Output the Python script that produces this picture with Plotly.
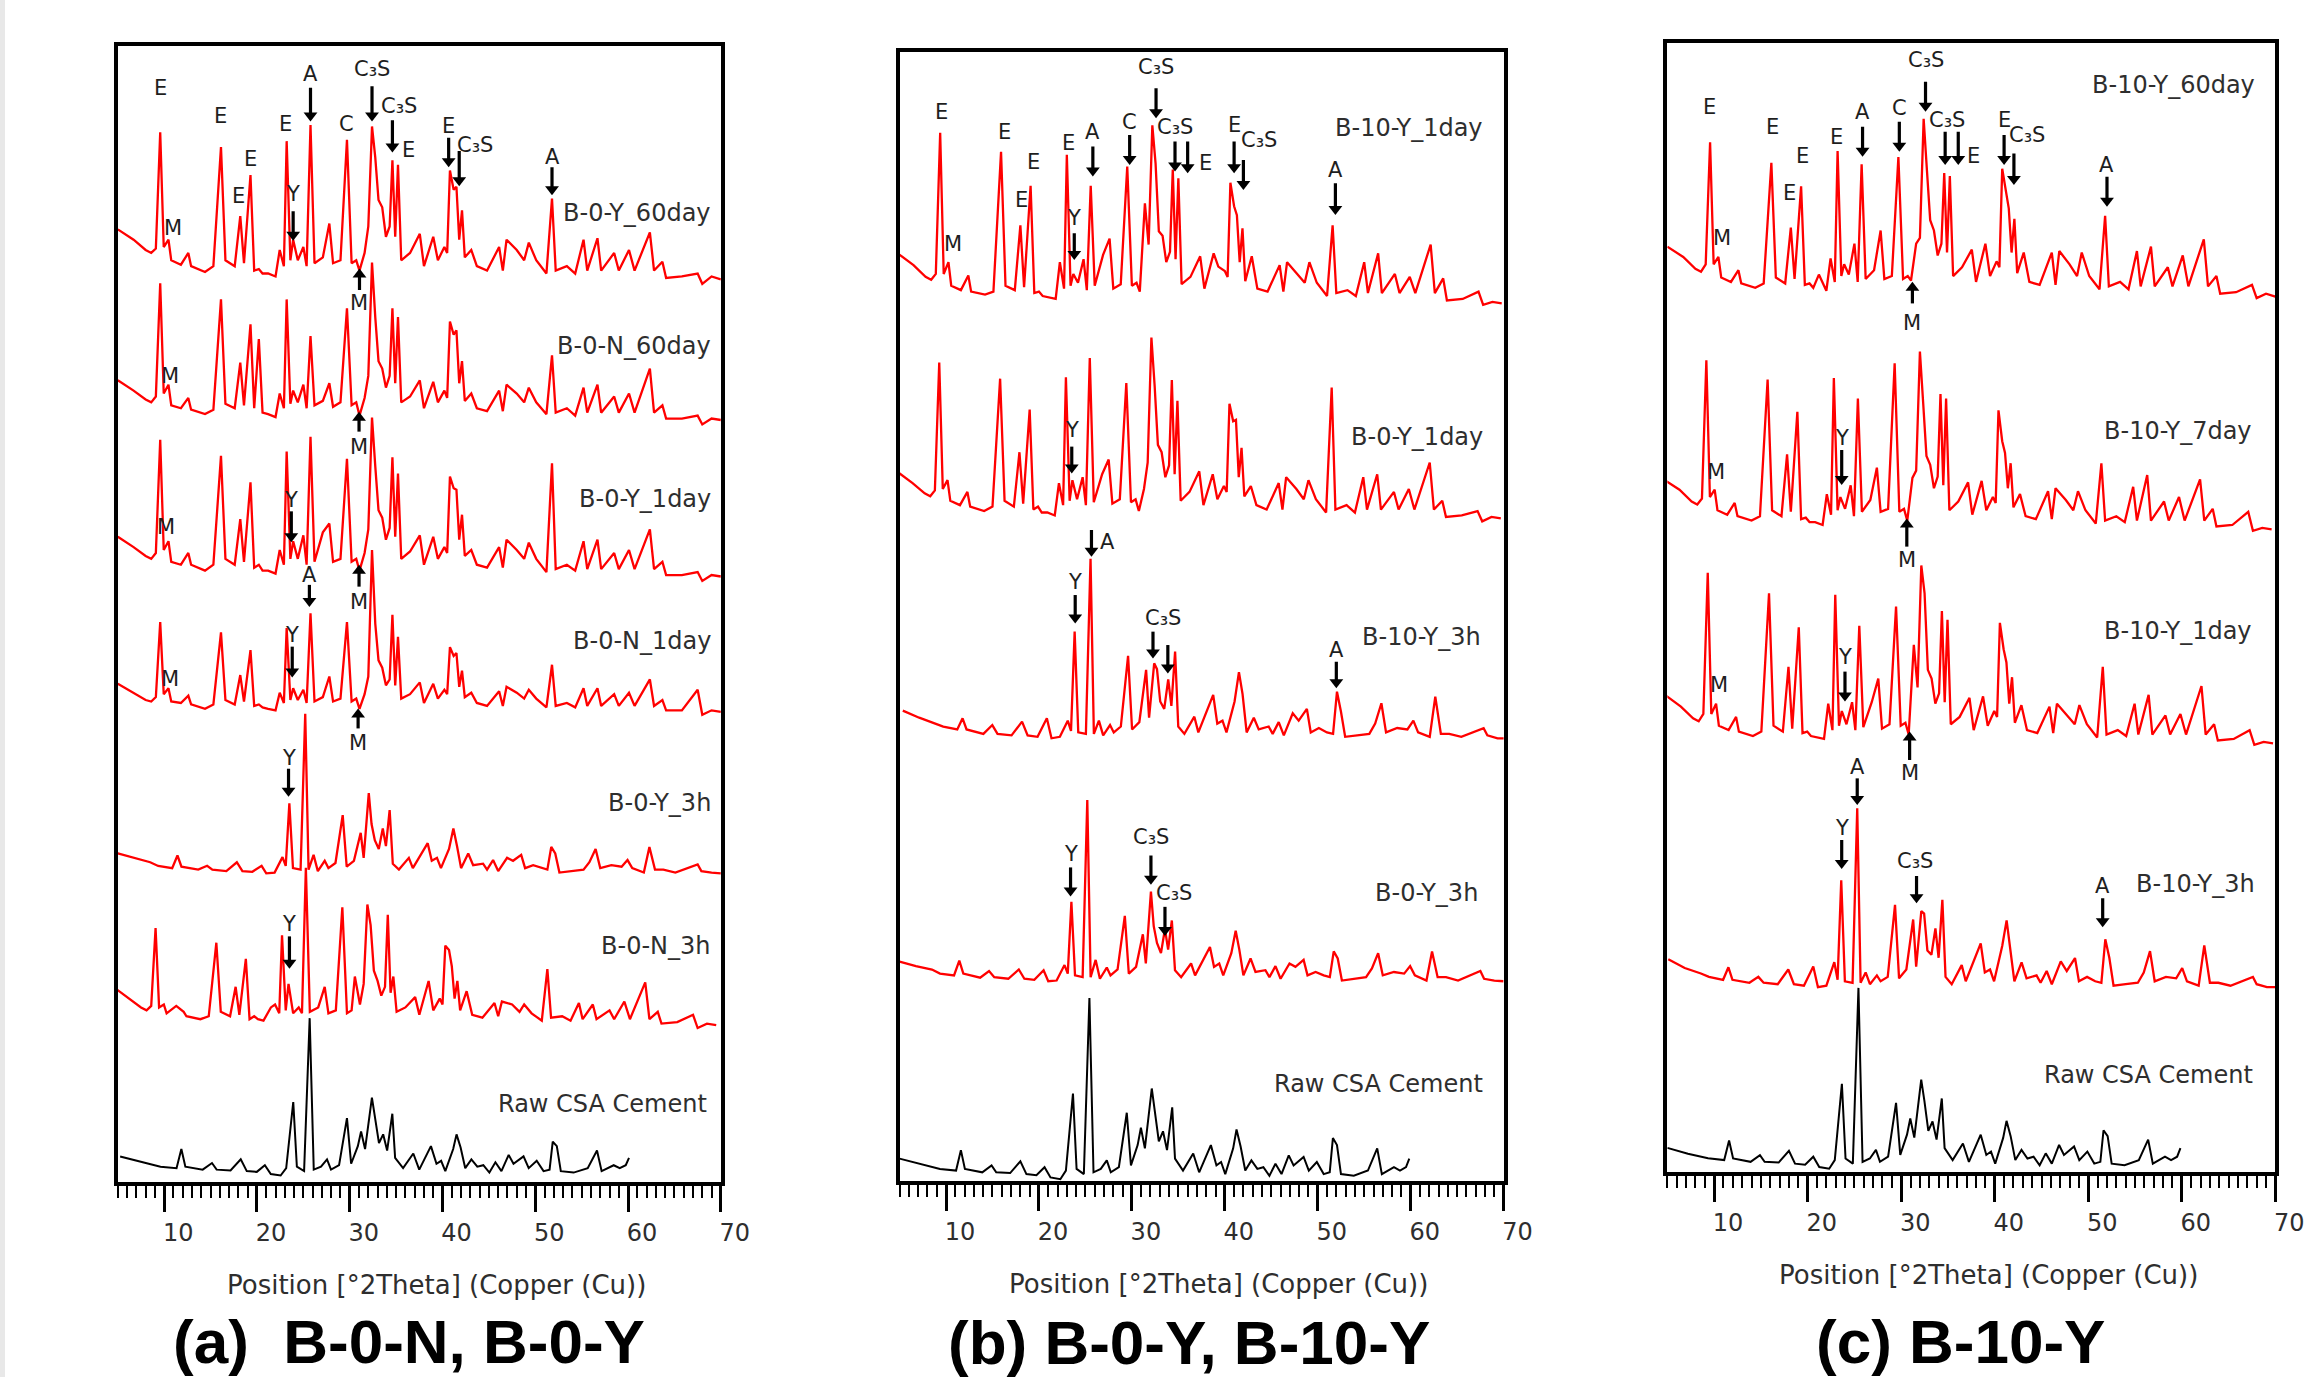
import plotly.graph_objects as go

# ---------------------------------------------------------------- data
# 2-theta grids (degrees) used by the measured patterns
THETA_HYD = [
    5.0, 6.7, 8.0, 8.6, 9.1, 9.57, 9.95, 10.46, 10.76, 11.8,
    12.6, 12.9, 14.4, 15.3, 16.12, 16.6, 17.6, 18.2, 18.6, 19.3,
    19.7, 20.2, 20.6, 21.2, 22.0, 22.45, 22.9, 23.2, 23.6, 23.9,
    24.4, 25.0, 25.35, 25.77, 26.2, 27.1, 27.8, 28.2, 29.0, 29.7,
    30.2, 30.7, 31.05, 31.6, 32.0, 32.4, 32.75, 33.1, 33.5, 33.9,
    34.3, 34.6, 34.9, 35.2, 35.55, 36.5, 37.55, 38.0, 39.0, 39.5,
    40.2, 40.5, 40.8, 41.2, 41.5, 41.8, 42.1, 42.4, 43.1, 43.7,
    44.8, 46.1, 46.5, 46.9, 48.0, 48.8, 49.3, 50.1, 51.2, 51.8,
    52.2, 53.4, 54.3, 55.2, 55.6, 56.7, 57.1, 58.5, 59.0, 60.1,
    60.7, 62.35, 62.8, 63.7, 64.1, 65.8, 67.5, 68.0, 69.0, 70.0,
]
THETA_EARLY = [
    5.0, 6.76, 8.49, 9.35, 10.86, 11.43, 11.86, 13.67, 14.63, 15.19,
    16.7, 17.83, 18.43, 19.5, 20.5, 21.0, 21.9, 22.75, 23.1, 23.49,
    23.88, 24.7, 25.2, 25.56, 26.1, 26.56, 27.3, 27.7, 28.46, 29.24,
    29.67, 30.45, 31.18, 31.5, 32.05, 32.35, 32.7, 33.13, 33.56, 33.9,
    34.3, 34.64, 35.3, 36.37, 36.8, 38.4, 38.84, 39.4, 39.83, 40.7,
    41.17, 41.56, 42.0, 42.77, 43.3, 44.37, 44.8, 45.45, 46.0, 46.96,
    47.6, 48.48, 48.9, 49.77, 50.64, 51.3, 51.72, 52.15, 52.6, 53.9,
    55.2, 55.83, 56.5, 57.0, 58.2, 59.3, 59.94, 60.45, 61.7, 62.3,
    62.9, 63.8, 65.1, 67.5, 67.9, 69.0, 70.0,
]
THETA_RAW = [
    5.0, 7.2, 9.35, 11.08, 11.6, 12.03, 13.9, 14.9, 15.4, 16.9,
    18.0, 18.65, 19.73, 20.6, 21.24, 22.3, 22.9, 23.66, 24.05, 24.83,
    25.43, 25.87, 26.65, 27.3, 27.73, 28.6, 29.45, 29.9, 30.62, 30.97,
    31.4, 32.14, 32.48, 32.9, 33.35, 33.78, 34.34, 34.64, 35.5, 36.6,
    37.24, 38.5, 39.1, 39.6, 40.05, 40.9, 41.26, 41.7, 42.2, 42.86,
    43.5, 44.15, 44.8, 45.45, 46.1, 46.88, 47.4, 48.48, 49.04, 49.9,
    50.64, 51.29, 51.63, 52.07, 52.5, 53.88, 55.4, 56.4, 56.9, 58.2,
    58.85, 59.5, 59.85,
]

# ---- panel (a) intensities (a.u., relative to each pattern's baseline)
INT_A_Y60 = [
    34, 27, 20, 18, 21, 100, 22, 27, 13, 10,
    18, 9, 5, 9, 90, 13, 9, 43, 11, 71,
    6, 7, 4, 4, 2, 20, 9, 94, 13, 27,
    13, 22, 9, 105, 11, 15, 38, 11, 13, 95,
    11, 13, 6, 18, 36, 104, 83, 54, 49, 29,
    36, 81, 29, 78, 13, 18, 31, 9, 29, 13,
    22, 18, 74, 61, 63, 27, 47, 15, 20, 9,
    6, 22, 6, 27, 20, 13, 25, 13, 4, 55,
    6, 9, 4, 27, 6, 28, 6, 18, 6, 20,
    6, 32, 6, 12, 1, 2, 4, -3, 2, 0,
]
INT_A_N60 = [
    27, 20, 14, 12, 16, 93, 18, 24, 10, 8,
    15, 7, 4, 7, 82, 11, 8, 39, 10, 65,
    8, 55, 5, 4, 2, 18, 8, 82, 11, 20,
    12, 24, 8, 57, 10, 13, 25, 9, 12, 76,
    10, 12, 3, 15, 30, 107, 70, 40, 35, 22,
    30, 76, 25, 70, 12, 16, 27, 8, 26, 12,
    20, 15, 67, 58, 61, 25, 40, 13, 18, 8,
    6, 20, 6, 24, 18, 12, 22, 12, 4, 44,
    5, 8, 3, 22, 5, 24, 5, 16, 5, 18,
    5, 35, 5, 10, 1, 1, 3, -3, 1, 0,
]
INT_A_Y1 = [
    27, 20, 14, 12, 16, 93, 18, 24, 10, 8,
    16, 8, 4, 8, 82, 12, 8, 39, 10, 64,
    6, 8, 4, 4, 2, 18, 8, 85, 12, 24,
    12, 28, 8, 95, 10, 30, 36, 10, 12, 80,
    10, 12, 4, 16, 32, 108, 75, 45, 40, 25,
    33, 81, 27, 70, 12, 17, 28, 8, 27, 12,
    20, 16, 68, 60, 59, 25, 42, 14, 18, 8,
    6, 20, 6, 25, 18, 12, 23, 12, 3, 77,
    5, 8, 4, 24, 5, 25, 5, 16, 5, 18,
    5, 32, 5, 10, 1, 1, 3, -3, 1, 0,
]
INT_A_N1 = [
    19, 13, 8, 7, 10, 61, 12, 16, 7, 6,
    11, 5, 2, 5, 54, 8, 5, 25, 7, 42,
    4, 5, 3, 2, 1, 13, 6, 57, 8, 16,
    8, 15, 6, 67, 7, 10, 24, 7, 9, 61,
    7, 9, 2, 12, 24, 110, 60, 35, 30, 18,
    22, 66, 18, 51, 9, 12, 20, 6, 19, 9,
    15, 12, 44, 38, 40, 17, 28, 10, 13, 6,
    4, 14, 4, 17, 13, 9, 15, 9, 3, 32,
    4, 6, 3, 16, 4, 16, 4, 12, 4, 13,
    4, 22, 4, 8, 1, 1, 15, -2, 1, 0,
]
INT_A_Y3H = [
    13, 10, 7, 4.5, 3, 11.6, 4, 2, 4.6, 2,
    1, 7, 1, 0.5, 4.6, -0.5, 0, 10.5, 4.5, 47,
    3, 2, 108, 2, 12, 1, 8, 3, 6.5, 39,
    4, 8, 27, 10, 54, 33, 22, 16, 30, 18,
    42.5, 6, 2, 10, 3, 20, 8, 10, 3, 16,
    30, 18, 3, 13, 5, 6, 2, 8.5, 1, 10,
    8, 12, 3, 5, 3, 2, 17.4, 13, 0, 1,
    2, 7, 16, 3, 5, 4, 8.5, 3, 0, 17.4,
    2, 2, 0, 5.5, 1, 0, -0.5,
]
INT_A_N3H = [
    26, 18, 12, 10, 13, 66, 12, 14, 8, 13,
    9, 6, 4, 6, 56, 9, 6, 26, 7, 45,
    4, 6, 4, 3, 12, 14, 8, 61, 10, 28,
    8, 12, 8, 107, 9, 12, 26, 8, 10, 80,
    8, 10, 33, 14, 28, 82, 68, 37, 30, 20,
    26, 75, 22, 33, 9, 12, 19, 7, 30, 10,
    18, 14, 54, 51, 40, 18, 30, 10, 23, 7,
    5, 15, 6, 16, 14, 9, 14, 8, 3, 38,
    5, 6, 3, 15, 4, 14, 4, 10, 4, 16,
    4, 29, 4, 9, 1, 2, 7, -2, 1, 0,
]
INT_A_RAW = [
    12, 8.5, 5, 4, 17, 5, 3, 7.5, 3, 2.5,
    10, 2, 1.5, 6, 0, -1, 4, 49, 5, 2,
    106, 3, 5, 10, 3, 6, 38, 7, 19, 29,
    17, 52, 38, 21, 27, 16, 41, 11, 4, 14,
    3, 19, 7, 9, 2, 17, 27, 18, 4, 10,
    5, 6, 1, 8, 2, 13, 7, 12, 4, 9,
    2, 3, 22, 19, 2, 1, 4, 16, 2, 6,
    4, 6, 11,
]

# ---- panel (b)
INT_B_10Y1 = [
    34, 26, 18, 16, 20, 116, 20, 28, 12, 9,
    19, 8, 6, 8, 103, 12, 9, 53, 11, 80,
    7, 8, 5, 4, 3, 28, 10, 101, 12, 20,
    14, 30, 9, 80, 12, 33, 44, 10, 13, 93,
    12, 14, 8, 68, 40, 121, 95, 49, 46, 28,
    35, 91, 30, 85, 13, 18, 32, 10, 34, 25,
    22, 18, 82, 66, 60, 28, 51, 15, 32, 10,
    8, 26, 8, 28, 20, 14, 28, 14, 5, 53,
    7, 9, 5, 28, 7, 34, 7, 20, 7, 18,
    7, 40, 7, 17, 2, 3, 8, -1, 1, 0,
]
INT_B_0Y1 = [
    32, 24, 17, 15, 19, 106, 20, 26, 12, 9,
    18, 8, 5, 8, 95, 12, 8, 45, 10, 74,
    6, 8, 4, 4, 2, 24, 9, 96, 12, 26,
    13, 28, 9, 109, 11, 30, 40, 10, 13, 92,
    11, 13, 5, 20, 38, 123, 90, 50, 45, 28,
    36, 94, 30, 80, 12, 18, 32, 9, 30, 13,
    22, 18, 78, 66, 67, 28, 48, 15, 22, 9,
    6, 24, 6, 28, 20, 13, 26, 13, 4, 89,
    6, 9, 4, 28, 6, 30, 6, 18, 6, 20,
    6, 38, 6, 12, 1, 2, 5, -2, 1, 0,
]
INT_B_10Y3H = [
    18.8, 14, 10, 8, 6, 13.6, 6, 3, 9, 3,
    2, 11.3, 2, 1, 13.6, 0, 1, 12, 5, 72.5,
    4, 3, 122, 3, 12, 2, 9, 4, 8, 56,
    6, 11, 46.5, 14, 51, 47, 25, 20, 40, 22,
    59, 8, 3, 14.7, 4, 29.5, 10, 12, 4, 25,
    45, 30, 4, 14, 6, 8, 3, 11, 2, 17,
    12, 20, 4, 7, 4, 3, 31.7, 18, 1, 2,
    3, 10, 23.8, 4, 7, 6, 12, 4, 1, 28.3,
    3, 3, 1, 6.8, 2, 0, 0,
]
INT_B_0Y3H = [
    12.8, 9.8, 7.5, 4.7, 3.5, 13.5, 4.7, 1.9, 6.5, 2.3,
    1.2, 7.5, 1.2, 0.5, 7, -0.5, 0, 10.5, 4.7, 53.6,
    3.5, 2.3, 122.7, 2.3, 14, 1.2, 8.8, 3.5, 7.5, 44,
    4.7, 9.3, 31.4, 11.6, 60.5, 37, 25.6, 18.6, 35, 21,
    40.8, 7, 2.3, 11.6, 3.5, 22.8, 9.3, 11.6, 3.5, 18.6,
    33.8, 21, 3.5, 15, 5.8, 7, 2.3, 9.8, 1.2, 11.6,
    9.3, 14, 3.5, 5.8, 3.5, 2.3, 19.8, 15, 0, 1.2,
    2.3, 8.2, 18.6, 3.5, 5.8, 4.7, 9.8, 3.5, 0, 19.8,
    2.3, 2.3, 0, 6.5, 1.2, 0, -0.5,
]
INT_B_RAW = [
    12.8, 9.3, 5.8, 4.7, 18.6, 5.8, 3.5, 8.2, 3.5, 3,
    11, 2.3, 1.6, 7, 0, -1.2, 4.7, 57, 5.8, 2.3,
    122, 3.5, 5.8, 11.6, 3.5, 7, 44, 8.2, 22, 33.8,
    19.8, 60.5, 45.4, 24.5, 31.4, 18.6, 47.7, 12.8, 4.7, 16.3,
    3.5, 22, 8.2, 10.5, 2.3, 19.8, 32.6, 21, 4.7, 11.6,
    5.8, 7, 1.2, 9.3, 2.3, 15, 8.2, 14, 4.7, 10.5,
    2.3, 3.5, 26.8, 22, 2.3, 1.2, 4.7, 19.8, 2.3, 7,
    4.7, 7, 12.8,
]

# ---- panel (c)
INT_C_60 = [
    34, 27, 19, 17, 22, 105, 22, 27, 13, 10,
    18, 9, 6, 9, 91, 13, 9, 47, 12, 75,
    8, 9, 6, 15, 4, 26, 10, 99, 14, 22,
    15, 36, 10, 90, 12, 18, 45, 12, 14, 95,
    12, 14, 11, 36, 40, 121, 86, 52, 45, 28,
    36, 84, 30, 82, 14, 20, 32, 10, 36, 14,
    24, 20, 87, 72, 60, 30, 53, 16, 30, 10,
    8, 30, 8, 31, 22, 14, 30, 14, 5, 55,
    7, 10, 5, 31, 7, 34, 7, 20, 7, 28,
    7, 39, 7, 14, 2, 3, 8, -1, 2, 0,
]
INT_C_7 = [
    34, 27, 19, 17, 21, 115, 22, 27, 13, 10,
    18, 9, 6, 9, 102, 13, 9, 51, 12, 80,
    7, 8, 5, 5, 3, 24, 10, 103, 13, 22,
    14, 30, 9, 89, 12, 20, 42, 12, 14, 113,
    12, 14, 6, 35, 40, 121, 86, 50, 44, 28,
    36, 92, 30, 89, 13, 19, 32, 10, 33, 13,
    22, 18, 81, 60, 52, 28, 45, 15, 24, 9,
    7, 26, 7, 28, 20, 13, 26, 13, 4, 45,
    6, 9, 5, 29, 6, 37, 6, 19, 6, 22,
    6, 34, 6, 14, 2, 3, 12, -1, 1, 0,
]
INT_C_1 = [
    33, 25, 17, 15, 20, 116, 20, 27, 12, 9,
    18, 8, 5, 8, 102, 12, 8, 52, 10, 79,
    7, 8, 5, 4, 3, 27, 9, 101, 12, 22,
    13, 28, 9, 80, 11, 28, 44, 10, 13, 93,
    12, 14, 6, 67, 38, 121, 102, 50, 44, 27,
    34, 90, 28, 84, 13, 18, 31, 9, 32, 12,
    22, 18, 82, 64, 55, 27, 45, 14, 26, 9,
    7, 25, 7, 27, 19, 13, 26, 13, 4, 52,
    6, 9, 5, 27, 6, 33, 6, 19, 6, 20,
    6, 39, 6, 13, 2, 3, 9, -1, 1, 0,
]
INT_C_3H = [
    19, 13, 9.3, 7, 5, 13.5, 5, 3, 7, 3,
    2, 12, 2, 1, 14, 0, 1, 17, 5, 72.7,
    4, 3, 121.6, 3, 10, 2, 8, 4, 7, 56,
    6, 12, 46, 14, 51.7, 50, 25, 22, 40, 20,
    59.4, 7, 2, 15, 4, 29.8, 10, 12, 4, 28,
    45.4, 27, 4, 16.8, 6, 8, 3, 11, 2, 17.5,
    11, 19.8, 4, 7, 4, 3, 32.6, 20, 1, 2,
    3, 10, 24.5, 4, 7, 6, 13, 4, 1, 28.4,
    3, 3, 1, 7, 2, 0, 0,
]
INT_C_RAW = [
    13, 9, 6, 4.7, 18, 5.8, 3.5, 8, 3.5, 3,
    11, 2.3, 1.6, 7, 0, -1.2, 4.7, 56.6, 5.8, 2.3,
    121.8, 3.5, 5.8, 11.6, 3.5, 7, 43.6, 8.2, 22, 33,
    20, 59.4, 45, 24.5, 31, 18.6, 46.6, 12.8, 4.7, 16,
    3.5, 22, 8.2, 10.5, 2.3, 19.8, 31.4, 21, 4.7, 11.6,
    5.8, 7, 1.2, 9.3, 2.3, 15, 8.2, 14, 4.7, 10.5,
    2.3, 3.5, 25, 21, 2.3, 1.2, 4.7, 18.6, 2.3, 7,
    4.7, 7, 12.8,
]

# sample names, stacking offsets (a.u.) and 2theta calibration shifts
SAMPLES_A = ["B-0-Y_60day", "B-0-N_60day", "B-0-Y_1day", "B-0-N_1day",
             "B-0-Y_3h", "B-0-N_3h", "Raw CSA Cement"]
OFFSET_A = [613.7, 518.1, 411.7, 319.7, 210.4, 106.7, 5.4]
SHIFT_A = [0, 0, 0, 0, 0, -0.5, 0.25]

SAMPLES_B = ["B-10-Y_1day", "B-0-Y_1day", "B-10-Y_3h", "B-0-Y_3h", "Raw CSA Cement"]
OFFSET_B = [596.7, 450.5, 301.0, 136.3, 2.4]
SHIFT_B = [-0.2, -0.3, 0.35, 0, 0]

SAMPLES_C = ["B-10-Y_60day", "B-10-Y_7day", "B-10-Y_1day", "B-10-Y_3h", "Raw CSA Cement"]
OFFSET_C = [595.3, 437.0, 291.5, 125.7, 3.4]
SHIFT_C = [0, -0.4, -0.25, 0.1, 0]

C3S = "C\u2083S"
# phase labels: (text, 2theta, intensity level)
TEXT_A = [
    ("E", 9.57, 743.7), ("M", 10.97, 648.7), ("E", 16.1, 724.7), ("E", 18.0, 670.7),
    ("E", 19.3, 695.7), ("E", 23.1, 719.7), ("Y", 23.9, 671.7), ("A", 25.77, 753.7),
    ("C", 29.7, 719.7), (C3S, 32.4, 756.7), (C3S, 35.35, 731.7), ("E", 36.3, 701.7),
    ("E", 40.66, 717.7), (C3S, 43.5, 705.1), ("A", 51.8, 697.2), ("M", 31.05, 597.7),
    ("M", 10.66, 547.7), ("M", 31.0, 500.0),
    ("M", 10.23, 445.1), ("Y", 23.7, 463.7), ("A", 25.65, 412.7), ("M", 31.0, 394.7),
    ("Y", 23.8, 371.9), ("M", 10.6, 341.7), ("M", 30.9, 298.2),
    ("Y", 23.4, 288.0), ("Y", 23.5, 175.4),
]
# arrows: (2theta, tip level, tail level); tip below tail = pointing down
ARROW_A = [
    (23.9, 640, 660), (25.77, 721, 744), (32.4, 721, 745), (34.6, 700, 722),
    (40.66, 690, 710), (41.8, 677, 701), (51.8, 671, 690),
    (23.7, 435, 456), (25.65, 391, 406), (23.8, 343, 364), (23.4, 262, 281),
    (23.5, 145, 167),
    (31.05, 621.2, 606.5), (31.0, 523.8, 510.2), (31.0, 419.7, 404.8), (30.9, 322.0, 308.4),
]

TEXT_B = [
    ("E", 9.48, 727.1), ("M", 10.7, 637.1), ("E", 16.3, 713.5), ("E", 18.1, 667.0),
    ("E", 19.4, 693.0), ("E", 23.2, 705.5), ("Y", 23.8, 654.5), ("A", 25.8, 713.5),
    ("C", 29.76, 720.3), (C3S, 32.6, 757.7), (C3S, 34.64, 716.4), ("E", 37.9, 692.4),
    ("E", 41.0, 718.0), (C3S, 43.7, 707.8), ("A", 51.9, 687.4),
    ("Y", 23.53, 510.6),
    ("A", 27.4, 434.7), ("Y", 23.9, 407.5), (C3S, 33.4, 382.5), ("A", 52.0, 361.0),
    ("Y", 23.4, 222.5), (C3S, 32.05, 234.0), (C3S, 34.5, 195.7),
]
ARROW_B = [
    (23.8, 626.2, 644.3), (25.8, 682.9, 703.3), (29.76, 690.8, 711.2), (32.6, 722.5, 742.9),
    (34.64, 686.3, 706.7), (36.0, 685.1, 706.7), (41.0, 685.1, 706.7), (42.0, 673.8, 694.2),
    (51.9, 656.8, 678.3),
    (23.53, 481.1, 499.3),
    (25.65, 424.5, 442.6), (23.9, 379.1, 398.4), (32.27, 355.3, 373.5), (33.87, 345.1, 364.4),
    (52.0, 335.0, 353.1),
    (23.4, 193.4, 213.2), (32.05, 201.5, 221.3), (33.56, 166.6, 186.4),
]

TEXT_C = [
    ("E", 9.48, 724.5), ("M", 10.87, 635.0), ("E", 16.25, 710.9), ("E", 18.1, 665.5),
    ("E", 19.4, 691.0), ("E", 23.1, 704.0), ("A", 25.87, 721.1), ("C", 29.8, 723.3),
    (C3S, 32.6, 756.2), (C3S, 34.9, 715.4), ("E", 37.77, 691.0), ("E", 41.0, 715.4),
    (C3S, 43.45, 705.2), ("A", 52.0, 684.8), ("M", 31.2, 577.1),
    ("Y", 23.64, 499.0), ("M", 10.2, 476.3), ("M", 30.6, 416.2),
    ("Y", 23.99, 350.5), ("M", 10.5, 331.2), ("M", 30.9, 271.1),
    ("A", 25.3, 275.7), ("Y", 23.64, 233.8), (C3S, 31.5, 211.8), ("A", 51.54, 194.4),
]
ARROW_C = [
    (25.87, 690.5, 710.9), (29.8, 693.9, 714.3), (32.6, 721.1, 741.5), (34.7, 684.8, 707.5),
    (36.1, 684.8, 707.5), (41.0, 684.8, 705.2), (42.05, 671.2, 692.7), (52.0, 656.5, 676.9),
    (23.64, 467.2, 491.0), (23.99, 319.9, 340.3),
    (25.3, 249.6, 267.7), (23.64, 206.0, 225.8), (31.64, 182.7, 201.3), (51.54, 166.4, 186.2),
    (31.2, 605.5, 590.7), (30.6, 444.5, 425.3), (30.9, 299.5, 280.2),
]

X_TICKS = [10, 20, 30, 40, 50, 60, 70]
X_TITLE = "Position [°2Theta] (Copper (Cu))"
PANEL_TITLES = ["(a)  B-0-N, B-0-Y", "(b) B-0-Y, B-10-Y", "(c) B-10-Y"]

# ---------------------------------------------------------------- figure
W, H = 2306, 1377
WX = W * 0.989            # effective horizontal extent observed in the rendered page
RED, BLACK = "#ff0000", "#000000"
LABEL_FONT = "DejaVu Sans"
HEAD_SIZE = 12            # arrow head marker size (px)

panels = [
    dict(samples=SAMPLES_A, offsets=OFFSET_A, shifts=SHIFT_A,
         grids=[THETA_HYD] * 4 + [THETA_EARLY, THETA_HYD, THETA_RAW],
         ints=[INT_A_Y60, INT_A_N60, INT_A_Y1, INT_A_N1, INT_A_Y3H, INT_A_N3H, INT_A_RAW],
         label_x=[69.2, 69.2, 69.2, 69.2, 69.2, 69.2, 68.75],
         label_y=[658.7, 568.7, 464.7, 367.7, 257.7, 160.7, 52.7],
         texts=TEXT_A, arrows=ARROW_A, yr=772.4,
         xpx=(118, 722), ypx=(46, 1182),
         title_x=437.5, title_y=1285, sub_x=409.6, sub_y=1341),
    dict(samples=SAMPLES_B, offsets=OFFSET_B, shifts=SHIFT_B,
         grids=[THETA_HYD, THETA_HYD, THETA_EARLY, THETA_EARLY, THETA_RAW],
         ints=[INT_B_10Y1, INT_B_0Y1, INT_B_10Y3H, INT_B_0Y3H, INT_B_RAW],
         label_x=[67.95, 67.95, 67.8, 67.5, 67.95],
         label_y=[716, 506, 370, 196, 66],
         texts=TEXT_B, arrows=ARROW_B, yr=767.6,
         xpx=(901, 1506), ypx=(52, 1181),
         title_x=1220.7, title_y=1284, sub_x=1191.3, sub_y=1342),
    dict(samples=SAMPLES_C, offsets=OFFSET_C, shifts=SHIFT_C,
         grids=[THETA_HYD, THETA_HYD, THETA_HYD, THETA_EARLY, THETA_RAW],
         ints=[INT_C_60, INT_C_7, INT_C_1, INT_C_3H, INT_C_RAW],
         label_x=[68.0, 67.7, 67.7, 68.0, 67.8],
         label_y=[739, 504, 368, 196, 66],
         texts=TEXT_C, arrows=ARROW_C, yr=767.8,
         xpx=(1670, 2279), ypx=(43, 1172),
         title_x=1991.3, title_y=1275, sub_x=1963.4, sub_y=1341),
]

fig = go.Figure()
annotations = []
layout_axes = {}

for i, p in enumerate(panels):
    sfx = "" if i == 0 else str(i + 1)
    xa, ya = "x" + sfx, "y" + sfx
    units_per_px = p["yr"] / (p["ypx"][1] - p["ypx"][0])
    n = len(p["samples"])
    for k in range(n):
        grid, vals = p["grids"][k], p["ints"][k]
        assert len(grid) == len(vals), (i, k, len(grid), len(vals))
        raw = p["samples"][k].startswith("Raw")
        fig.add_trace(go.Scatter(
            x=[t + p["shifts"][k] for t in grid],
            y=[v + p["offsets"][k] for v in vals],
            mode="lines", xaxis=xa, yaxis=ya, showlegend=False, hoverinfo="skip",
            line=dict(color=BLACK if raw else RED, width=2.0 if raw else 2.3),
        ))
        annotations.append(dict(
            x=p["label_x"][k], y=p["label_y"][k], xref=xa, yref=ya,
            text=p["samples"][k], showarrow=False, xanchor="right", yanchor="middle",
            font=dict(family=LABEL_FONT, size=24, color="#2e2e2e"),
        ))
    for (txt, tx, ty) in p["texts"]:
        annotations.append(dict(
            x=tx, y=ty, xref=xa, yref=ya, text=txt, showarrow=False,
            xanchor="center", yanchor="middle",
            font=dict(family=LABEL_FONT, size=21, color="#1e1e1e"),
        ))
    # arrows: shaft lines + triangular heads
    sx, sy, hx_d, hy_d, hx_u, hy_u = [], [], [], [], [], []
    r_units = HEAD_SIZE / 2 * units_per_px
    for (tx, tip, tail) in p["arrows"]:
        down = tip < tail
        centre = tip + r_units if down else tip - r_units
        sx += [tx, tx, None]
        sy += [tail, centre, None]
        if down:
            hx_d.append(tx); hy_d.append(centre)
        else:
            hx_u.append(tx); hy_u.append(centre)
    fig.add_trace(go.Scatter(x=sx, y=sy, mode="lines", xaxis=xa, yaxis=ya,
                             line=dict(color="black", width=3.2),
                             showlegend=False, hoverinfo="skip"))
    fig.add_trace(go.Scatter(x=hx_d, y=hy_d, mode="markers", xaxis=xa, yaxis=ya,
                             marker=dict(symbol="triangle-down", size=HEAD_SIZE, color="black",
                                         line=dict(width=0)),
                             showlegend=False, hoverinfo="skip"))
    fig.add_trace(go.Scatter(x=hx_u, y=hy_u, mode="markers", xaxis=xa, yaxis=ya,
                             marker=dict(symbol="triangle-up", size=HEAD_SIZE, color="black",
                                         line=dict(width=0)),
                             showlegend=False, hoverinfo="skip"))
    # axis title and panel caption
    annotations.append(dict(
        x=p["title_x"] / WX, y=1 - p["title_y"] / H, xref="paper", yref="paper",
        text=X_TITLE, showarrow=False, xanchor="center", yanchor="middle",
        font=dict(family=LABEL_FONT, size=26, color="#2e2e2e"),
    ))
    annotations.append(dict(
        x=p["sub_x"] / WX, y=1 - p["sub_y"] / H, xref="paper", yref="paper",
        text="<b>" + PANEL_TITLES[i] + "</b>", showarrow=False,
        xanchor="center", yanchor="middle",
        font=dict(family="Liberation Sans", size=62, color="#000000"),
    ))
    layout_axes["xaxis" + sfx] = dict(
        domain=[p["xpx"][0] / WX, min(p["xpx"][1] / WX, 1.0)], anchor=ya, range=[5, 70],
        showgrid=False, zeroline=False,
        showline=True, linewidth=4, linecolor="black", mirror=True,
        ticks="outside", ticklen=26, tickwidth=3, tickcolor="black",
        tickmode="array", tickvals=X_TICKS, ticklabelshift=14,
        tickfont=dict(family=LABEL_FONT, size=24, color="#2e2e2e"),
        minor=dict(ticks="outside", ticklen=12, tickwidth=2, tickcolor="black",
                   dtick=1, tick0=0, showgrid=False),
    )
    layout_axes["yaxis" + sfx] = dict(
        domain=[1 - p["ypx"][1] / H, 1 - p["ypx"][0] / H], anchor=xa,
        range=[0, p["yr"]], showgrid=False, zeroline=False,
        showline=True, linewidth=4, linecolor="black", mirror=True,
        ticks="", showticklabels=False,
    )

fig.update_layout(
    width=W, height=H, autosize=False,
    margin=dict(l=0, r=0, t=0, b=0),
    paper_bgcolor="white", plot_bgcolor="white",
    annotations=annotations,
    shapes=[dict(type="rect", xref="paper", yref="paper", x0=0, x1=5 / WX, y0=0, y1=1,
                 fillcolor="#e8e8e8", line=dict(width=0), layer="below")],
    **layout_axes,
)

fig.write_html("out.html", config={"responsive": False})
